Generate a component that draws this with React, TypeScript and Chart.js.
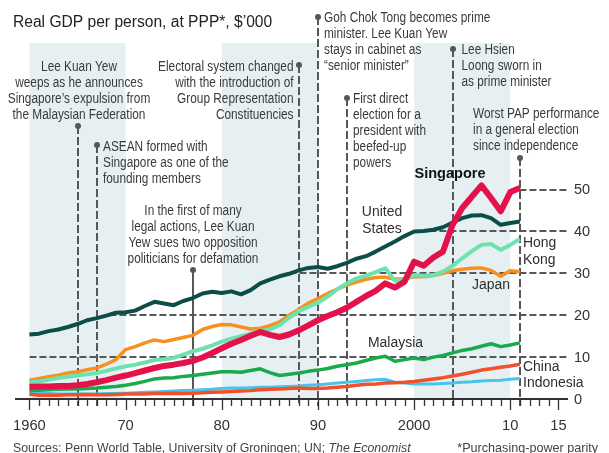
import React, { useEffect, useRef } from 'react';
import { Chart, registerables } from 'chart.js';

Chart.register(...registerables);

// ---------------- DATA ----------------
const years: number[] = Array.from({ length: 52 }, (_, i) => 1960 + i);

const singaporeGdp = [
  2.9, 3.0, 3.0, 3.1, 3.1, 3.3, 3.6, 4.0, 4.5, 5.1,
  5.6, 6.2, 6.8, 7.4, 7.9, 8.2, 8.6, 9.1, 9.9, 11.0,
  12.1, 13.2, 14.1, 15.1, 16.0, 15.3, 14.8, 15.4, 16.4, 17.6,
  18.8, 19.8, 20.7, 21.8, 23.2, 24.6, 25.8, 27.6, 26.6, 28.0,
  32.8, 31.8, 33.8, 35.2, 41.6, 45.6, 48.3, 51.0, 48.0, 44.8,
  49.4, 50.4,
];
const usGdp = [
  15.4, 15.6, 16.2, 16.6, 17.2, 17.9, 18.8, 19.3, 19.9, 20.6,
  20.7, 21.1, 22.2, 23.2, 22.8, 22.4, 23.4, 24.1, 25.2, 25.6,
  25.3, 25.7, 25.0, 26.0, 27.6, 28.5, 29.3, 29.9, 30.7, 31.3,
  31.5, 31.1, 31.7, 32.5, 33.5, 34.1, 35.2, 36.4, 37.6, 38.9,
  40.0, 40.1, 40.4, 41.0, 42.1, 43.2, 43.8, 43.9, 43.2, 41.6,
  42.0, 42.4,
];
const hongKongGdp = [
  4.0, 4.2, 4.6, 5.0, 5.3, 5.6, 5.9, 6.2, 6.7, 7.3,
  7.8, 8.2, 8.7, 9.3, 9.5, 9.8, 10.6, 11.4, 12.0, 12.8,
  13.7, 14.4, 15.0, 15.6, 16.3, 16.6, 17.6, 19.4, 21.0, 22.0,
  23.0, 24.4, 26.2, 27.6, 28.8, 29.4, 30.3, 31.2, 28.2, 28.4,
  29.6, 29.4, 29.6, 30.4, 31.8, 33.6, 35.3, 36.8, 37.0, 35.6,
  36.8, 38.2,
];
const japanGdp = [
  4.5, 4.9, 5.3, 5.7, 6.2, 6.5, 7.0, 7.4, 8.3, 9.4,
  11.8, 12.5, 13.4, 14.1, 13.7, 14.2, 14.7, 15.2, 16.6, 17.3,
  17.8, 17.7, 17.2, 16.7, 16.9, 17.5, 18.4, 20.0, 21.4, 22.9,
  24.0, 25.2, 26.2, 27.2, 27.9, 28.6, 29.0, 29.1, 28.6, 28.7,
  29.2, 29.2, 29.5, 30.0, 30.6, 31.0, 31.2, 31.3, 30.7, 29.3,
  30.6, 30.4,
];
const malaysiaGdp = [
  2.1, 2.1, 2.2, 2.3, 2.4, 2.4, 2.5, 2.6, 2.8, 3.0,
  3.3, 3.7, 4.2, 4.8, 5.0, 5.1, 5.4, 5.6, 5.9, 6.2,
  6.5, 6.5, 6.4, 6.8, 7.2, 6.3, 5.6, 5.9, 6.2, 6.6,
  6.9, 7.3, 7.8, 8.2, 8.6, 9.2, 9.8, 10.2, 9.0, 9.4,
  9.8, 9.4, 10.0, 10.4, 11.0, 11.6, 12.0, 12.6, 13.2, 12.5,
  12.9, 13.4,
];
const chinaGdp = [
  1.2, 0.9, 0.9, 0.9, 1.0, 1.0, 1.1, 1.0, 1.0, 1.1,
  1.2, 1.2, 1.2, 1.3, 1.3, 1.4, 1.3, 1.4, 1.5, 1.6,
  1.7, 1.8, 1.9, 2.0, 2.2, 2.3, 2.4, 2.5, 2.6, 2.5,
  2.5, 2.6, 2.8, 3.0, 3.3, 3.5, 3.6, 3.8, 3.9, 4.0,
  4.2, 4.5, 4.8, 5.1, 5.5, 5.9, 6.4, 6.9, 7.2, 7.6,
  7.9, 8.3,
];
const indonesiaGdp = [
  1.3, 1.3, 1.3, 1.2, 1.2, 1.2, 1.2, 1.2, 1.3, 1.3,
  1.4, 1.5, 1.6, 1.7, 1.8, 1.9, 2.0, 2.1, 2.2, 2.3,
  2.5, 2.6, 2.6, 2.7, 2.8, 2.8, 2.9, 3.0, 3.1, 3.3,
  3.4, 3.6, 3.8, 4.0, 4.2, 4.4, 4.6, 4.7, 4.0, 3.8,
  3.6, 3.6, 3.6, 3.7, 3.8, 4.0, 4.1, 4.3, 4.4, 4.5,
  4.7, 4.9,
];

const xTickYears = [1960, 1970, 1980, 1990, 2000, 2010, 2015];
const xTickLabels = ['1960', '70', '80', '90', '2000', '10', '15'];
const yTickValues = [0, 10, 20, 30, 40, 50];
const yTickLabels = ['0', '10', '20', '30', '40', '50'];
const gridValues = [10, 20, 30, 40, 50];
const shadedDecades = [1960, 1980, 2000];

const events = [
  { year: 1965, text: ['Lee Kuan Yew', 'weeps as he announces', 'Singapore\u2019s expulsion from', 'the Malaysian Federation'] },
  { year: 1967, text: ['ASEAN formed with', 'Singapore as one of the', 'founding members'] },
  { year: 1977, text: ['In the first of many', 'legal actions, Lee Kuan', 'Yew sues two opposition', 'politicians for defamation'] },
  { year: 1988, text: ['Electoral system changed', 'with the introduction of', 'Group Representation', 'Constituencies'] },
  { year: 1990, text: ['Goh Chok Tong becomes prime', 'minister. Lee Kuan Yew', 'stays in cabinet as', '\u201Csenior minister\u201D'] },
  { year: 1993, text: ['First direct', 'election for a', 'president with', 'beefed-up', 'powers'] },
  { year: 2004, text: ['Lee Hsien', 'Loong sworn in', 'as prime minister'] },
  { year: 2011, text: ['Worst PAP performance', 'in a general election', 'since independence'] },
];

// ---------------- LAYOUT / STYLE ----------------
const eventLayout = [
  { dotY: 126, dx: 1, baseline: 71, align: 'center', solid: false },
  { dotY: 145, dx: 6, baseline: 150.5, align: 'left', solid: false },
  { dotY: 270, dx: 0, baseline: 215, align: 'center', solid: true },
  { dotY: 65, dx: -5.5, baseline: 71, align: 'right', solid: false },
  { dotY: 17, dx: 6, baseline: 21.7, align: 'left', solid: false },
  { dotY: 98, dx: 6, baseline: 102.7, align: 'left', solid: false },
  { dotY: 49, dx: 8.5, baseline: 54.3, align: 'left', solid: false },
  { dotY: 158, dx: -47, baseline: 118.3, align: 'left', solid: false },
];

const seriesLabelLayout = [
  { lines: ['Singapore'], x: 450, baseline: 177.7, align: 'center', bold: true },
  { lines: ['United', 'States'], x: 382, baseline: 215.7, align: 'center', bold: false },
  { lines: ['Hong', 'Kong'], x: 523, baseline: 246.7, align: 'left', bold: false },
  { lines: ['Japan'], x: 491, baseline: 289.3, align: 'center', bold: false },
  { lines: ['Malaysia'], x: 395.5, baseline: 346.7, align: 'center', bold: false },
  { lines: ['China'], x: 523, baseline: 370.7, align: 'left', bold: false },
  { lines: ['Indonesia'], x: 523, baseline: 386.7, align: 'left', bold: false },
];

const FONT = '"Liberation Sans", Arial, sans-serif';
const GREY = '#575757';
const TEXT = '#3a3a3a';
const BAND = '#e6f0f2';

const seriesList = [
  { label: 'Singapore', data: singaporeGdp, color: '#e3124b', width: 6 },
  { label: 'United States', data: usGdp, color: '#0c4d48', width: 4 },
  { label: 'Hong Kong', data: hongKongGdp, color: '#6de2b0', width: 4 },
  { label: 'Japan', data: japanGdp, color: '#f7901e', width: 3.5 },
  { label: 'Malaysia', data: malaysiaGdp, color: '#19aa4b', width: 3.5 },
  { label: 'China', data: chinaGdp, color: '#f24f2a', width: 3.5 },
  { label: 'Indonesia', data: indonesiaGdp, color: '#48c4e8', width: 3 },
];

function scaledText(ctx: any, t: string, x: number, y: number, align: string, sx: number) {
  ctx.save();
  ctx.translate(x, y);
  ctx.scale(sx, 1);
  ctx.textAlign = align;
  ctx.fillText(t, 0, 0);
  ctx.restore();
}

const econPlugin = {
  id: 'econ',
  beforeDatasetsDraw(chart: any) {
    const { ctx, chartArea, scales } = chart;
    const xs = scales.x;
    const ys = scales.y;
    const y0 = ys.getPixelForValue(0);
    ctx.save();
    // shaded decades
    ctx.fillStyle = BAND;
    shadedDecades.forEach((d) => {
      const a = xs.getPixelForValue(d);
      const b = xs.getPixelForValue(d + 10);
      ctx.fillRect(a, chartArea.top, b - a, y0 - chartArea.top);
    });
    // gridlines clipped to region under the top envelope
    ctx.save();
    ctx.beginPath();
    const first = xs.getPixelForValue(years[0]);
    const last = xs.getPixelForValue(years[years.length - 1]);
    ctx.moveTo(first, y0 + 2);
    years.forEach((yr, i) => {
      let m = 0;
      seriesList.forEach((s) => { if (s.data[i] > m) m = s.data[i]; });
      ctx.lineTo(xs.getPixelForValue(yr), ys.getPixelForValue(m));
    });
    ctx.lineTo(last, chartArea.top);
    ctx.lineTo(chartArea.right + 2, chartArea.top);
    ctx.lineTo(chartArea.right + 2, y0 + 2);
    ctx.closePath();
    ctx.clip();
    ctx.strokeStyle = GREY;
    ctx.lineWidth = 2;
    ctx.setLineDash([7, 3]);
    gridValues.forEach((v) => {
      const py = Math.round(ys.getPixelForValue(v));
      ctx.beginPath();
      ctx.moveTo(first, py);
      ctx.lineTo(chartArea.right, py);
      ctx.stroke();
    });
    ctx.restore();
    // event lines
    events.forEach((ev, i) => {
      const L = eventLayout[i];
      const px = Math.round(xs.getPixelForValue(ev.year));
      ctx.strokeStyle = GREY;
      ctx.lineWidth = 2;
      ctx.setLineDash(L.solid ? [] : [8, 3]);
      ctx.beginPath();
      ctx.moveTo(px, L.dotY);
      ctx.lineTo(px, y0 + 7);
      ctx.stroke();
      ctx.setLineDash([]);
      ctx.fillStyle = GREY;
      ctx.beginPath();
      ctx.arc(px, L.dotY, 3, 0, Math.PI * 2);
      ctx.fill();
      ctx.fillStyle = TEXT;
      ctx.font = '14px ' + FONT;
      ctx.textBaseline = 'alphabetic';
      ev.text.forEach((t, j) => {
        scaledText(ctx, t, px + L.dx, L.baseline + j * 16, L.align, 0.845);
      });
    });
    ctx.restore();
  },
  afterDatasetsDraw(chart: any) {
    const { ctx, chartArea, scales } = chart;
    const xs = scales.x;
    const ys = scales.y;
    const y0 = Math.round(ys.getPixelForValue(0));
    ctx.save();
    // x axis line
    ctx.strokeStyle = '#333';
    ctx.lineWidth = 2;
    ctx.beginPath();
    ctx.moveTo(chartArea.left, y0);
    ctx.lineTo(chartArea.right, y0);
    ctx.stroke();
    // ticks
    ctx.lineWidth = 1.3;
    for (let yr = 1960; yr <= 2015; yr++) {
      const px = Math.round(xs.getPixelForValue(yr)) + 0.5;
      const major = xTickYears.indexOf(yr) >= 0;
      ctx.beginPath();
      ctx.moveTo(px, y0);
      ctx.lineTo(px, y0 + (major ? 11 : 7));
      ctx.stroke();
    }
    // x labels
    ctx.fillStyle = '#333';
    ctx.font = '15.5px ' + FONT;
    ctx.textBaseline = 'alphabetic';
    xTickYears.forEach((yr, i) => {
      scaledText(ctx, xTickLabels[i], xs.getPixelForValue(yr), 430, 'center', 0.95);
    });
    // right labels
    ctx.font = '14.5px ' + FONT;
    ctx.textAlign = 'left';
    ctx.textBaseline = 'middle';
    yTickValues.forEach((v, i) => {
      ctx.fillText(yTickLabels[i], chartArea.right + 6, ys.getPixelForValue(v) + 0.5);
    });
    // series labels
    ctx.textBaseline = 'alphabetic';
    seriesLabelLayout.forEach((s) => {
      ctx.fillStyle = s.bold ? '#111' : '#2e2e2e';
      ctx.font = (s.bold ? 'bold 15px ' : '15.5px ') + FONT;
      s.lines.forEach((t, j) => scaledText(ctx, t, s.x, s.baseline + j * 17, s.align, s.bold ? 0.97 : 0.9));
    });
    // title
    ctx.fillStyle = '#222';
    ctx.font = '15.6px ' + FONT;
    ctx.textAlign = 'left';
    ctx.fillText('Real GDP per person, at PPP*, $\u2019000', 13, 26.7);
    // sources
    ctx.fillStyle = '#444';
    ctx.font = '12.3px ' + FONT;
    const s1 = 'Sources: Penn World Table, University of Groningen; UN; ';
    ctx.fillText(s1, 13, 452);
    const w1 = ctx.measureText(s1).width;
    ctx.font = 'italic 12.3px ' + FONT;
    ctx.fillText('The Economist', 13 + w1, 452);
    ctx.font = '12.6px ' + FONT;
    ctx.textAlign = 'right';
    ctx.fillText('*Purchasing-power parity', 598, 452);
    ctx.restore();
  },
};

export default function App() {
  const ref = useRef<HTMLCanvasElement | null>(null);
  useEffect(() => {
    if (!ref.current) return;
    const chart = new Chart(ref.current, {
      type: 'line',
      data: {
        datasets: seriesList.map((s, i) => ({
          label: s.label,
          data: years.map((yr, j) => ({ x: yr, y: s.data[j] })),
          borderColor: s.color,
          backgroundColor: s.color,
          borderWidth: s.width,
          pointRadius: 0,
          tension: 0,
          fill: false,
          order: i,
          borderJoinStyle: 'round',
          borderCapStyle: 'butt',
        })),
      },
      options: {
        responsive: false,
        animation: false,
        devicePixelRatio: 1,
        layout: { padding: { left: 15, right: 41, top: 43, bottom: 54 } },
        scales: {
          x: { type: 'linear', min: 1958.5, max: 2016, display: false },
          y: { type: 'linear', min: 0, max: 85, display: false },
        },
        plugins: { legend: { display: false }, tooltip: { enabled: false }, title: { display: false } },
      },
      plugins: [econPlugin],
    } as any);
    return () => chart.destroy();
  }, []);
  return (
    <div style={{ position: 'absolute', left: 0, top: 0, width: 609, height: 453, background: '#fff' }}>
      <canvas ref={ref} width={609} height={453} style={{ display: 'block' }} />
    </div>
  );
}
